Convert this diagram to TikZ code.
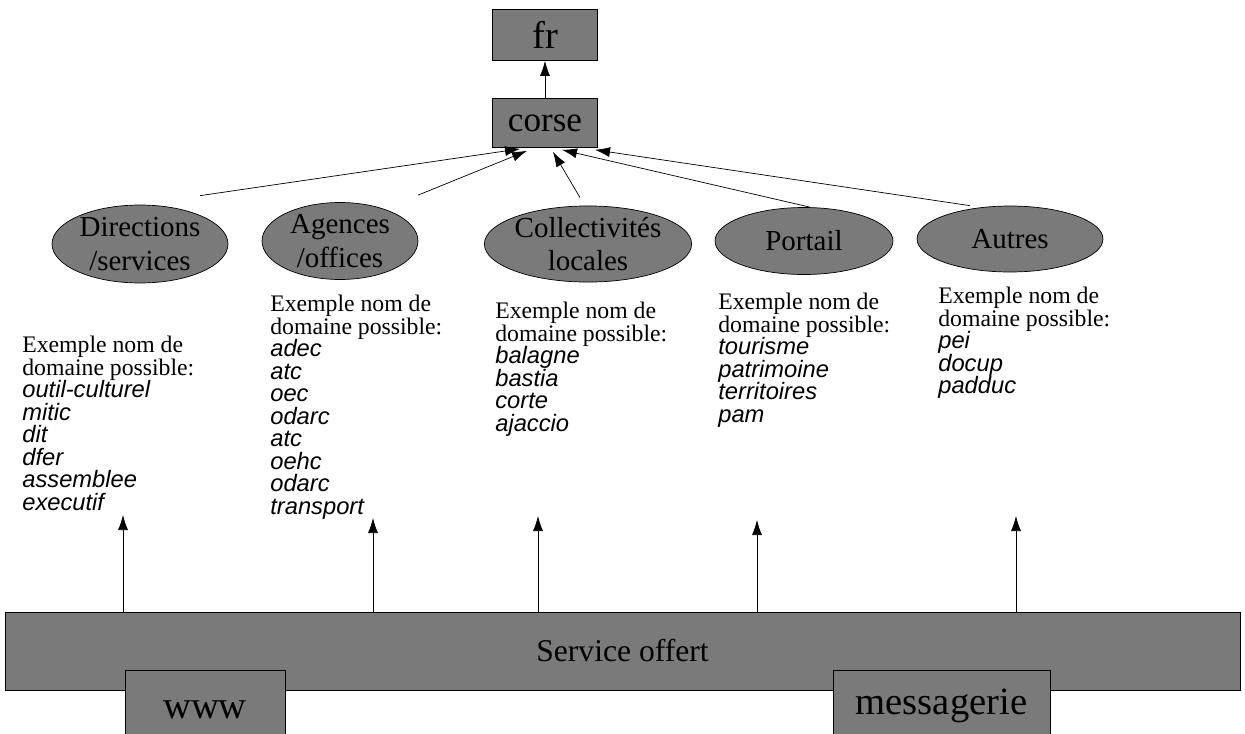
\documentclass[tikz,border=0pt]{standalone}
\usepackage{fontspec}
\setmainfont{Liberation Serif}
\newfontfamily\arialfont{Liberation Sans}
\usetikzlibrary{arrows}
\usetikzlibrary{arrows.meta}
\usetikzlibrary{shapes.geometric}
\usetikzlibrary{calc}

\newcommand{\dom}[1]{{\arialfont\itshape #1}}

\tikzset{
  boite/.style={draw=black, fill=black!52, inner sep=0pt},
  bulle/.style={ellipse, draw=black, fill=black!52, inner sep=0pt, align=center, font=\fontsize{16.5}{19}\selectfont},
  liste/.style={anchor=north west, inner sep=0pt, align=left, font=\fontsize{13.5}{12.8}\selectfont},
  fleche/.style={-{Latex[length=3mm,width=2mm]}, thin},
}

\begin{document}
\begin{tikzpicture}[x=0.02cm, y=-0.02cm]
\useasboundingbox (0,0) rectangle (1245,734);

% hierarchie des domaines
\node[boite, minimum width=2.1cm, minimum height=1.02cm, font=\fontsize{22}{24}\selectfont] (fr) at (545,35) {fr};
\node[boite, minimum width=2.1cm, minimum height=0.98cm, font=\fontsize{20}{22}\selectfont] (corse) at (545,123) {corse};
\draw[fleche] (corse.north) -- (fr.south);

\node[bulle, minimum width=3.52cm, minimum height=1.56cm] (dir) at (140,244) {Directions\\/services};
\node[bulle, minimum width=3.12cm, minimum height=1.54cm] (agc) at (340,241) {Agences\\/offices};
\node[bulle, minimum width=3.8cm, minimum height=1.5cm] (col) at (588,244) {Collectivités\\locales};
\node[bulle, minimum width=3.56cm, minimum height=1.34cm] (por) at (804,241) {Portail};
\node[bulle, minimum width=3.72cm, minimum height=1.32cm] (aut) at (1010,239) {Autres};

\draw[fleche] ($(dir.north)+(60,-9)$) -- ($(corse.south)+(-25,1)$);
\draw[fleche] ($(agc.north)+(78,-7)$) -- ($(corse.south)+(-18,3)$);
\draw[fleche] ($(col.north)+(-8,-8)$) -- ($(corse.south)+(8,4)$);
\draw[fleche] ($(por.north)+(6,0)$) -- ($(corse.south)+(17,2)$);
\draw[fleche] ($(aut.north)+(-40,0)$) -- ($(corse.south)+(50,2)$);

% exemples de noms
\node[liste] (ex1) at (22,336) {Exemple nom de\\domaine possible:\\\dom{outil-culturel}\\\dom{mitic}\\\dom{dit}\\\dom{dfer}\\\dom{assemblee}\\\dom{executif}};
\node[liste] (ex2) at (270,295) {Exemple nom de\\domaine possible:\\\dom{adec}\\\dom{atc}\\\dom{oec}\\\dom{odarc}\\\dom{atc}\\\dom{oehc}\\\dom{odarc}\\\dom{transport}};
\node[liste] (ex3) at (495,302) {Exemple nom de\\domaine possible:\\\dom{balagne}\\\dom{bastia}\\\dom{corte}\\\dom{ajaccio}};
\node[liste] (ex4) at (718,293) {Exemple nom de\\domaine possible:\\\dom{tourisme}\\\dom{patrimoine}\\\dom{territoires}\\\dom{pam}};
\node[liste] (ex5) at (938,287) {Exemple nom de\\domaine possible:\\\dom{pei}\\\dom{docup}\\\dom{padduc}};

% services
\node[boite, minimum width=24.7cm, minimum height=1.56cm, font=\fontsize{18}{20}\selectfont] (srv) at (622.5,651) {Service offert};
\node[boite, minimum width=3.2cm, minimum height=1.28cm, text height=0.66cm, font=\fontsize{22}{24}\selectfont] (www) at (205,702) {www};
\node[boite, minimum width=4.34cm, minimum height=1.28cm, text height=0.66cm, font=\fontsize{22}{24}\selectfont] (msg) at (941.5,702) {messagerie};

\coordinate (t1) at (123,515);
\coordinate (t2) at (373,518);
\coordinate (t3) at (538,516);
\coordinate (t4) at (757,520);
\coordinate (t5) at (1016,516);
\foreach \t in {t1,t2,t3,t4,t5}
  \draw[fleche] (srv.north -| \t) -- (\t);
\end{tikzpicture}
\end{document}
